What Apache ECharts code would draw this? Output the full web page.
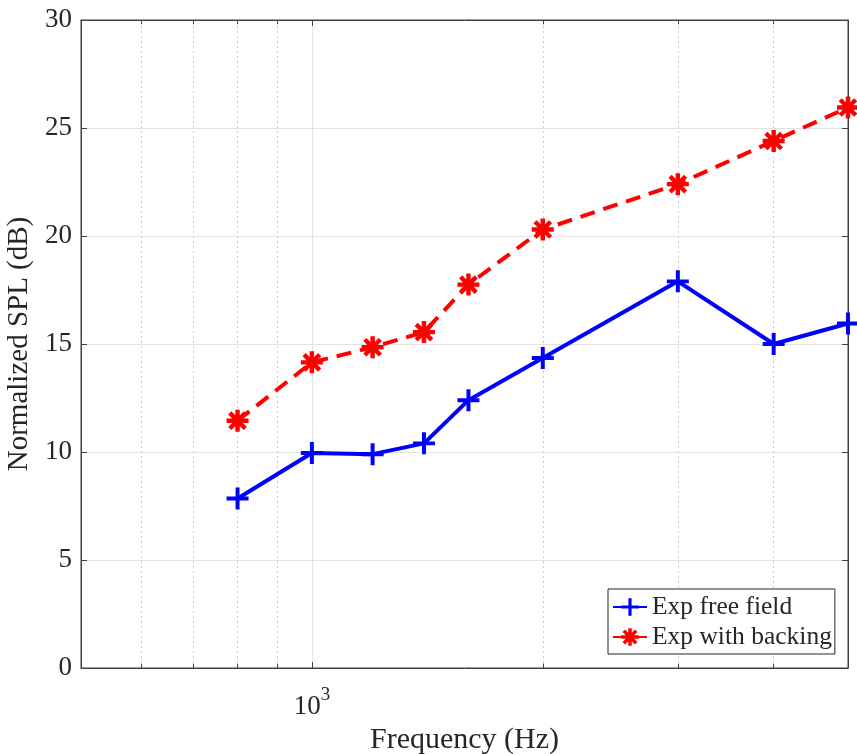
<!DOCTYPE html>
<html>
<head>
<meta charset="utf-8">
<script src="https://cdn.jsdelivr.net/npm/echarts@6/dist/echarts.min.js"></script>
<style>
html,body{margin:0;padding:0;background:#fff;}
#chart{width:857px;height:754px;}
</style>
</head>
<body>
<div id="chart"></div>
<script>
// ---- data ----
const frequencies = [800, 1000, 1200, 1400, 1600, 2000, 3000, 4000, 5000];
const freeField = [7.85, 9.95, 9.9, 10.4, 12.4, 14.35, 17.9, 15.0, 15.95];
const withBacking = [11.45, 14.15, 14.85, 15.55, 17.75, 20.3, 22.4, 24.4, 25.95];
const seriesNames = ['Exp free field', 'Exp with backing'];
const minorGridFreqs = [600, 700, 800, 900, 2000, 3000, 4000];
const xTickLabels = {1000: '{b|10}{s|3}'};
const xRange = [500, 5000];
const yRange = [0, 30];
const yStep = 5;

const plusPath = 'path://M-0.18,-1L0.18,-1L0.18,-0.18L1,-0.18L1,0.18L0.18,0.18L0.18,1L-0.18,1L-0.18,0.18L-1,0.18L-1,-0.18L-0.18,-0.18Z';
const starPath = 'path://M1,0.2L-1,0.2L-1,-0.2L1,-0.2Z' +
  'M-0.2,1L-0.2,-1L0.2,-1L0.2,1Z' +
  'M0.5657,0.8485L-0.8485,-0.5657L-0.5657,-0.8485L0.8485,0.5657Z' +
  'M-0.8485,0.5657L0.5657,-0.8485L0.8485,-0.5657L-0.5657,0.8485Z';

const font = 'Liberation Serif';
const axisColor = '#404040';
const textColor = '#262626';
const minorTickLen = 0.2; // in y units

const minorTickSegments = [];
minorGridFreqs.forEach(f => {
  minorTickSegments.push([{coord: [f, yRange[0]]}, {coord: [f, yRange[0] + minorTickLen]}]);
  minorTickSegments.push([{coord: [f, yRange[1]]}, {coord: [f, yRange[1] - minorTickLen]}]);
});

const chart = echarts.init(document.getElementById('chart'), null, {renderer: 'canvas'});
chart.setOption({
  animation: false,
  backgroundColor: '#fff',
  textStyle: {fontFamily: font},
  grid: {left: 81, right: 9, top: 20, bottom: 86, show: true, borderColor: axisColor, borderWidth: 1,
         containLabel: false, outerBoundsMode: 'none'},
  legend: {
    orient: 'vertical',
    left: 608, top: 589,
    padding: [5, 3, 4, 4],
    itemGap: 4,
    itemWidth: 34, itemHeight: 22,
    backgroundColor: '#fff',
    borderColor: textColor, borderWidth: 1,
    textStyle: {fontFamily: font, fontSize: 25.5, color: textColor},
    data: seriesNames
  },
  xAxis: [{
    type: 'log', logBase: 10, min: xRange[0], max: xRange[1],
    position: 'bottom',
    name: 'Frequency (Hz)', nameLocation: 'middle', nameGap: 55,
    nameTextStyle: {fontFamily: font, fontSize: 30, color: textColor},
    axisLine: {show: true, onZero: false, lineStyle: {color: axisColor, width: 1}},
    axisTick: {show: true, inside: true, length: 6, lineStyle: {color: axisColor}},
    axisLabel: {
      margin: 18, color: textColor,
      formatter: function (v) { return xTickLabels[Math.round(v)] || ''; },
      rich: {
        b: {fontFamily: font, fontSize: 27, color: textColor},
        s: {fontFamily: font, fontSize: 19, color: textColor, padding: [0, 0, 22, 0]}
      }
    },
    splitLine: {show: true, lineStyle: {color: '#e3e3e3', width: 1}},
    minorTick: {show: false}
  }, {
    type: 'log', logBase: 10, min: xRange[0], max: xRange[1],
    position: 'top',
    axisLine: {show: true, onZero: false, lineStyle: {color: axisColor, width: 1}},
    axisTick: {show: true, inside: true, length: 6, lineStyle: {color: axisColor}},
    axisLabel: {show: false},
    splitLine: {show: false}
  }],
  yAxis: [{
    type: 'value', min: yRange[0], max: yRange[1], interval: yStep,
    position: 'left',
    name: 'Normalized SPL (dB)', nameLocation: 'middle', nameGap: 47,
    nameTextStyle: {fontFamily: font, fontSize: 29, color: textColor},
    axisLine: {show: true, onZero: false, lineStyle: {color: axisColor, width: 1}},
    axisTick: {show: true, inside: true, length: 6, lineStyle: {color: axisColor}},
    axisLabel: {margin: 9, fontFamily: font, fontSize: 27, color: textColor},
    splitLine: {show: true, lineStyle: {color: '#e3e3e3', width: 1}}
  }, {
    type: 'value', min: yRange[0], max: yRange[1], interval: yStep,
    position: 'right',
    axisLine: {show: true, onZero: false, lineStyle: {color: axisColor, width: 1}},
    axisTick: {show: true, inside: true, length: 6, lineStyle: {color: axisColor}},
    axisLabel: {show: false},
    splitLine: {show: false}
  }],
  series: [{
    name: seriesNames[0],
    type: 'line',
    xAxisIndex: 0, yAxisIndex: 0,
    data: frequencies.map((f, i) => [f, freeField[i]]),
    symbol: plusPath, symbolSize: 22,
    showAllSymbol: true,
    lineStyle: {color: '#0000ff', width: 4},
    itemStyle: {color: '#0000ff'},
    z: 3,
    markLine: {
      silent: true, symbol: 'none', z: 1,
      label: {show: false},
      lineStyle: {color: '#cccccc', type: [2, 3], width: 1},
      emphasis: {disabled: true},
      data: minorGridFreqs.map(f => ({xAxis: f}))
    }
  }, {
    name: seriesNames[1],
    type: 'line',
    xAxisIndex: 0, yAxisIndex: 0,
    data: frequencies.map((f, i) => [f, withBacking[i]]),
    symbol: starPath, symbolSize: 22,
    showAllSymbol: true,
    lineStyle: {color: '#ff0000', width: 4, type: [15, 9]},
    itemStyle: {color: '#ff0000'},
    z: 3,
    markLine: {
      silent: true, symbol: 'none', z: 2,
      label: {show: false},
      lineStyle: {color: axisColor, type: 'solid', width: 1},
      emphasis: {disabled: true},
      data: minorTickSegments
    }
  }]
});
</script>
</body>
</html>
